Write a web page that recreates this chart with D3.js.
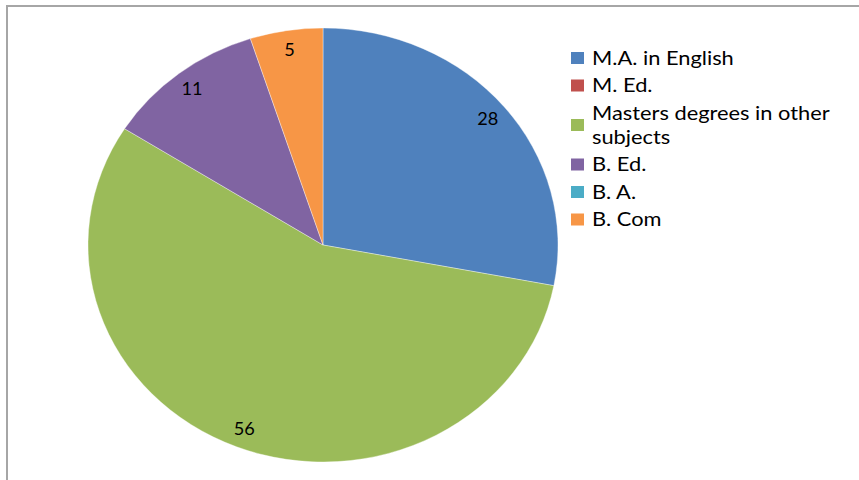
<!DOCTYPE html>
<html><head><meta charset="utf-8">
<script src="https://cdn.jsdelivr.net/npm/d3@7"></script>
<style>body{margin:0;background:#fff;}svg{display:block;}</style>
</head><body>
<svg id="c" width="859" height="480"></svg>
<script>
const categories = ["M.A. in English", "M. Ed.", "Masters degrees in other subjects", "B. Ed.", "B. A.", "B. Com"];
const values = [28, 0, 56, 11, 0, 5];
const legendLines = [["M.A. in English"], ["M. Ed."], ["Masters degrees in other", "subjects"], ["B. Ed."], ["B. A."], ["B. Com"]];
const colors = ["#4F81BD", "#C0504D", "#9BBB59", "#8064A2", "#4BACC6", "#F79646"];

const svg = d3.select("#c");
// outer border
svg.append("rect").attr("x", 7).attr("y", 6).attr("width", 900).attr("height", 600)
  .attr("fill", "none").attr("stroke", "#a6a6a6").attr("stroke-width", 2);

const cx = 323, cy = 245, ry = 217, sx = 235 / 217;
const data = categories.map((c, i) => ({cat: c, value: values[i], color: colors[i]}));
const pie = d3.pie().sort(null).value(d => d.value);
const arcs = pie(data);
const arc = d3.arc().innerRadius(0).outerRadius(ry);

const g = svg.append("g").attr("transform", `translate(${cx},${cy}) scale(${sx},1)`);
g.selectAll("path").data(arcs.filter(a => a.value > 0)).join("path")
  .attr("d", arc).attr("fill", d => d.data.color)
  .attr("stroke", "#ffffff").attr("stroke-width", 0.6).attr("stroke-opacity", 0.6);

const font = "Lato, 'Liberation Sans', sans-serif";
const tx = 1.1;
const labelArc = d3.arc().innerRadius(ry * 0.91).outerRadius(ry * 0.91);
svg.append("g").selectAll("text").data(arcs.filter(a => a.value > 0)).join("text")
  .attr("transform", d => `translate(${cx + labelArc.centroid(d)[0] * sx},${cy + labelArc.centroid(d)[1]}) scale(${tx},1)`)
  .attr("dy", "0.36em")
  .attr("text-anchor", "middle")
  .attr("font-family", font).attr("font-size", 16.5).attr("fill", "#000")
  .text(d => d.value);

// legend
const lg = svg.append("g").attr("font-family", font).attr("font-size", 19.5).attr("fill", "#000");
let y = 58;
const rowH = 27.5, lineH = 24;
legendLines.forEach((lines, i) => {
  const n = lines.length;
  const center = y + (n - 1) * lineH / 2;
  lg.append("rect").attr("x", 571).attr("y", center - 6).attr("width", 13).attr("height", 12).attr("fill", colors[i]);
  lines.forEach((t, j) => {
    lg.append("text").attr("transform", `translate(592,${y + j * lineH}) scale(1.12,1)`)
      .attr("dy", "0.35em").text(t);
  });
  y += rowH + (n - 1) * lineH;
});
</script>
</body></html>
